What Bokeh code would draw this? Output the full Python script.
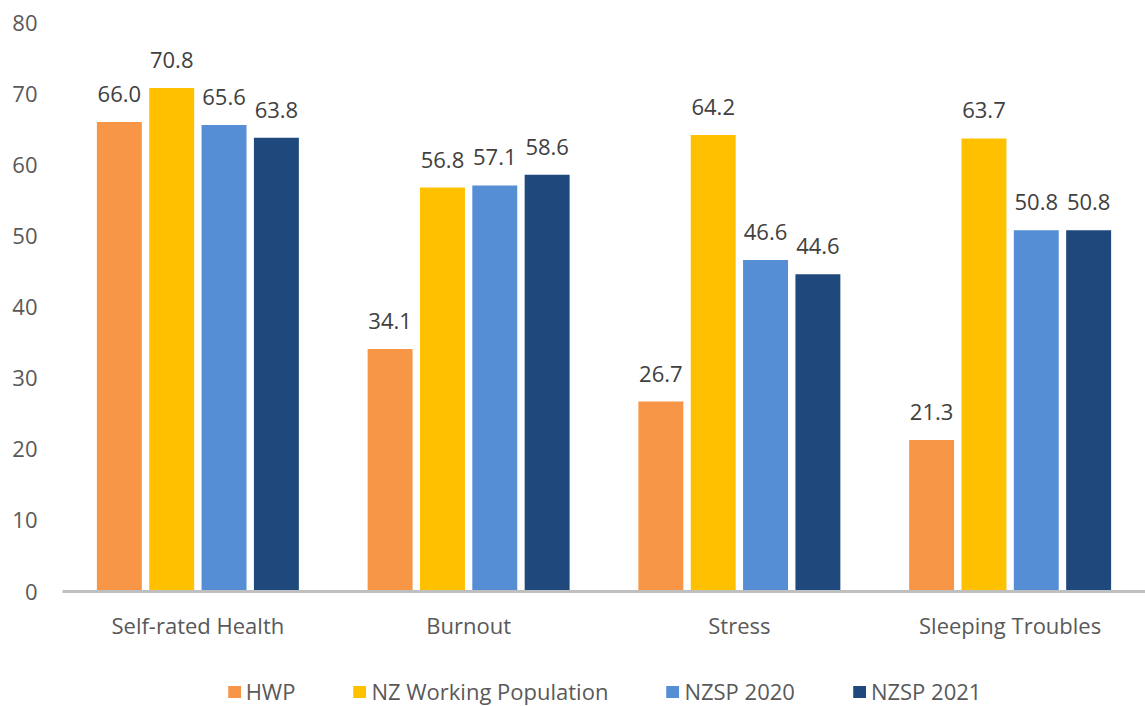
from bokeh.plotting import figure
from bokeh.layouts import column
from bokeh.models import (ColumnDataSource, FactorRange, FixedTicker, Legend, LegendItem,
                          LabelSet, Range1d, BoxAnnotation)
from bokeh.core.properties import value
from bokeh.transform import dodge
from bokeh.embed import file_html
from bokeh.resources import INLINE

categories = ["Self-rated Health", "Burnout", "Stress", "Sleeping Troubles"]
series_names = ["HWP", "NZ Working Population", "NZSP 2020", "NZSP 2021"]
hwp = [66.0, 34.1, 26.7, 21.3]
nz_working = [70.8, 56.8, 64.2, 63.7]
nzsp_2020 = [65.6, 57.1, 46.6, 50.8]
nzsp_2021 = [63.8, 58.6, 44.6, 50.8]
y_ticks = [0, 10, 20, 30, 40, 50, 60, 70, 80]

colors = ["#F79646", "#FFC000", "#558ED5", "#1F497D"]
offsets = [-0.29, -0.0966, 0.0966, 0.29]
bar_w = 0.166
FONT = "Open Sans"
TXT = "#595959"
keys = ["s0", "s1", "s2", "s3"]

data = {"cat": categories, "s0": hwp, "s1": nz_working, "s2": nzsp_2020, "s3": nzsp_2021}
for key in keys:
    data[key + "_t"] = ["%.1f" % v for v in data[key]]
src = ColumnDataSource(data)

p = figure(x_range=FactorRange(factors=categories, range_padding=0),
           y_range=Range1d(0, 80),
           width=1145, height=642, output_backend="svg", toolbar_location=None,
           min_border_left=62, min_border_right=0, min_border_top=22, min_border_bottom=48)

p.background_fill_color = "white"
p.border_fill_color = "white"
p.outline_line_color = None
p.xgrid.visible = False
p.ygrid.visible = False

for i, key in enumerate(keys):
    p.vbar(x=dodge("cat", offsets[i], range=p.x_range), top=key, width=bar_w,
           source=src, fill_color=colors[i], line_color=None)
    labels = LabelSet(x=dodge("cat", offsets[i], range=p.x_range), y=key, text=key + "_t",
                      source=src, text_align="center", text_baseline="alphabetic",
                      y_offset=20, text_font=value(FONT), text_font_size="22px",
                      text_color="#404040")
    p.add_layout(labels)

p.yaxis.ticker = FixedTicker(ticks=y_ticks)
p.yaxis.axis_line_color = None
p.yaxis.major_tick_line_color = None
p.yaxis.minor_tick_line_color = None
p.yaxis.major_tick_in = 0
p.yaxis.major_tick_out = 0
p.yaxis.major_label_standoff = 25
p.yaxis.major_label_text_font = FONT
p.yaxis.major_label_text_font_size = "22px"
p.yaxis.major_label_text_color = TXT

p.xaxis.axis_line_color = "#BFBFBF"
p.xaxis.axis_line_width = 3
p.xaxis.major_tick_line_color = None
p.xaxis.minor_tick_line_color = None
p.xaxis.major_tick_in = 0
p.xaxis.major_tick_out = 0
p.xaxis.major_label_standoff = 18
p.xaxis.major_label_text_font = FONT
p.xaxis.major_label_text_font_size = "22px"
p.xaxis.major_label_text_color = TXT

# legend strip below the chart: its bars lie below the visible range and are masked,
# only their legend swatches show
pl = figure(width=1145, height=64, output_backend="svg", toolbar_location=None,
            x_range=FactorRange(factors=categories, range_padding=0),
            y_range=Range1d(1000, 1001),
            x_axis_type=None, y_axis_type=None,
            min_border_left=62, min_border_right=0, min_border_top=0, min_border_bottom=0)
pl.outline_line_color = None
pl.xgrid.visible = False
pl.ygrid.visible = False
items = []
for i, key in enumerate(keys):
    r = pl.vbar(x=dodge("cat", offsets[i], range=pl.x_range), top=key,
                width=bar_w, source=src, fill_color=colors[i], line_color=None)
    items.append(LegendItem(label=series_names[i], renderers=[r]))
pl.add_layout(BoxAnnotation(fill_color="white", fill_alpha=1.0, line_color=None))
legend = Legend(items=items, orientation="horizontal", location="bottom_center",
                label_text_font=FONT, label_text_font_size="22px", label_text_color=TXT,
                glyph_width=16, glyph_height=15, label_standoff=4, spacing=56,
                padding=0, margin=0, border_line_color=None, background_fill_alpha=0)
pl.add_layout(legend, "center")

layout = column(p, pl, spacing=0)
open("out.html", "w").write(file_html(layout, INLINE))
